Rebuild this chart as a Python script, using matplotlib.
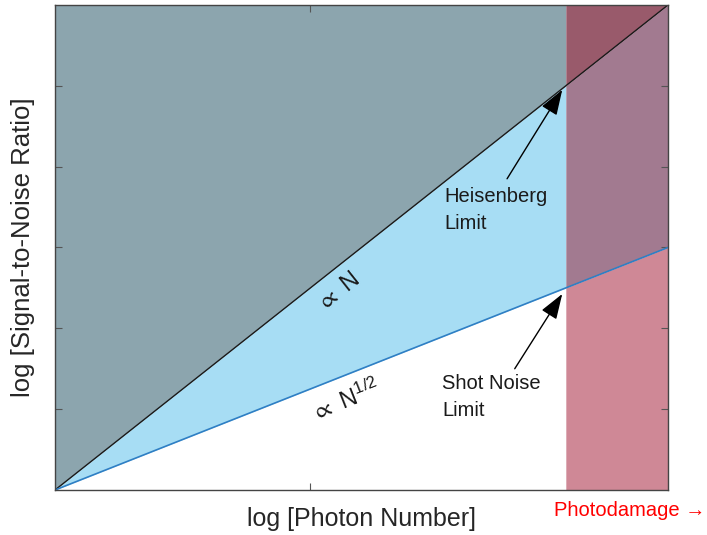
import numpy as np
import matplotlib.pyplot as plt

plt.rcParams['font.family'] = ['Liberation Sans', 'DejaVu Sans']
plt.rcParams['mathtext.fontset'] = 'custom'
plt.rcParams['mathtext.rm'] = 'Liberation Sans'
plt.rcParams['mathtext.it'] = 'Liberation Sans'
plt.rcParams['mathtext.fallback'] = 'stixsans'

# log photon number axis and the two scaling limits
log_n = [0, 10, 12]
heisenberg = [0, 10, 12]       # SNR ~ N
shot_noise = [0, 5, 6]         # SNR ~ N^(1/2)
photodamage_start = 10
x_max, y_max = 12, 12
x_ticks = [5]
y_ticks = [2, 4, 6, 8, 10]

c_gray = '#8ca5ae'
c_blue = '#a7ddf4'
c_pink = '#cf8896'
c_purple = '#a27a90'
c_darkred = '#995a6b'

fig = plt.figure(figsize=(7.07, 5.35), dpi=100)
ax = fig.add_axes([0.0778, 0.0841, 0.867, 0.9066])

x = np.array(log_n, dtype=float)
hl = np.array(heisenberg, dtype=float)
sn = np.array(shot_noise, dtype=float)
safe = x <= photodamage_start
dmg = x >= photodamage_start

# safe zone: above N, between N and N^1/2, below N^1/2
ax.fill_between(x[safe], hl[safe], y_max, color=c_gray, lw=0)
ax.fill_between(x[safe], sn[safe], hl[safe], color=c_blue, lw=0)
# photodamage zone
ax.fill_between(x[dmg], hl[dmg], y_max, color=c_darkred, lw=0)
ax.fill_between(x[dmg], sn[dmg], hl[dmg], color=c_purple, lw=0)
ax.fill_between(x[dmg], 0, sn[dmg], color=c_pink, lw=0)

ax.plot(x, hl, color='#1a1a1a', lw=1.0)
ax.plot(x, sn, color='#2f7fc4', lw=1.2)

ax.set_xlim(0, x_max)
ax.set_ylim(0, y_max)
ax.set_xticks(x_ticks)
ax.set_yticks(y_ticks)
ax.set_xticklabels([])
ax.set_yticklabels([])
ax.tick_params(direction='in', length=5, width=0.8, color='#555555',
               top=True, right=True)
for s in ax.spines.values():
    s.set_color('#444444')
    s.set_linewidth(1.0)

ax.set_xlabel('log [Photon Number]', fontsize=18, color='#262626', labelpad=9)
ax.set_ylabel('log [Signal-to-Noise Ratio]', fontsize=18.5, color='#262626', labelpad=11)

# slope labels
ang_n = np.degrees(np.arctan2(0.9066 * 5.35, 0.867 * 7.07))
ang_sqrt = np.degrees(np.arctan2(0.5 * 0.9066 * 5.35, 0.867 * 7.07))
ax.text(5.55, 4.9, r'$\propto\ \mathrm{N}$', rotation=ang_n, fontsize=17,
        ha='center', va='center', color='#1a1a1a')
ax.text(5.7, 2.2, r'$\propto\ \mathrm{N}^{1/2}$', rotation=ang_sqrt, fontsize=17,
        ha='center', va='center', color='#1a1a1a')

arrow = dict(arrowstyle='-|>,head_width=0.45,head_length=1.3', color='black',
             lw=1.0, mutation_scale=12, shrinkA=0, shrinkB=0)
ax.annotate('', xy=(9.93, 9.9), xytext=(8.85, 7.7), arrowprops=arrow)
ax.annotate('', xy=(9.93, 4.85), xytext=(9.0, 3.0), arrowprops=arrow)
ax.text(7.62, 7.5, 'Heisenberg\nLimit', fontsize=14.5, ha='left', va='top',
        color='#1a1a1a', linespacing=1.55)
ax.text(7.58, 2.88, 'Shot Noise\nLimit', fontsize=14.5, ha='left', va='top',
        color='#1a1a1a', linespacing=1.55)

fig.text(0.997, 0.046, 'Photodamage \u2192', fontsize=14.5, color='red',
         ha='right', va='center')

fig.savefig('out.png', dpi=100)
